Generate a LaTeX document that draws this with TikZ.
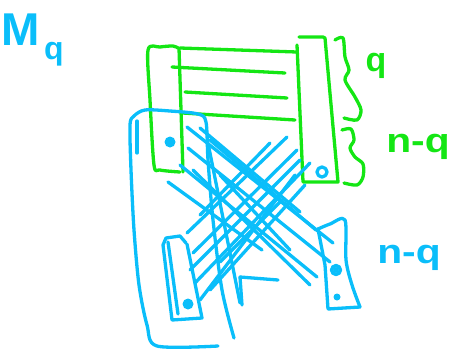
\documentclass[tikz,border=0pt]{standalone}
\usepackage{fontspec}
\setmainfont{Liberation Sans}
\definecolor{pgreen}{RGB}{20,230,20}
\definecolor{pblue}{RGB}{10,190,250}
\begin{document}
\begin{tikzpicture}[x=1pt,y=-1pt,
  gstroke/.style={draw=pgreen,line width=3.3pt,line cap=round,line join=round},
  bstroke/.style={draw=pblue,line width=3.3pt,line cap=round,line join=round},
  glabel/.style={text=pgreen,font=\fontsize{34}{34}\selectfont\bfseries,inner sep=0pt},
  blabel/.style={text=pblue,font=\fontsize{34}{34}\selectfont\bfseries,inner sep=0pt}]
\useasboundingbox (0,0) rectangle (457,349);
% ---------- green matrix ----------
\draw[gstroke] plot[smooth] coordinates {(180,172) (160,170) (154,165) (150,100) (148,50) (160,47) (173,46) (178,48)};
\draw[gstroke] (179,48) -- (183,172);
\draw[gstroke] (180,48) -- (297,52);
\draw[gstroke] (172,67) -- (285,73);
\draw[gstroke] (185,92) -- (287,98);
\draw[gstroke] (183,113) -- (295,120);
\draw[gstroke] (297,45) -- (303,182) -- (338,182) -- (325,38) -- (323,37) -- (299,37);
% braces
\draw[gstroke] plot[smooth] coordinates {(335,40) (343,38) (345,57) (349,70) (345,80) (355,97) (361,110) (357,120) (344,118)};
\draw[gstroke] plot[smooth] coordinates {(342,130) (351,129) (354,140) (350,148) (355,157) (363,164) (363,177) (357,185) (344,183)};
% green labels
\node[glabel] (lq) at (376,66) {q};
\node[glabel,xscale=1.2] (lnq1) at (418,147) {n-q};
% ---------- blue big left shape ----------
\draw[bstroke] plot[smooth] coordinates {(218,346) (157,346) (147,325) (139,285) (134,230) (131,170) (130,125) (134,116) (145,110) (170,111) (198,114) (206,122) (208,160) (213,220) (222,290) (234,338)};
\draw[bstroke] (137,121) -- (137,153);
% bottom-left box
\draw[bstroke] plot coordinates {(186,243) (180,236) (166,238) (163,245) (172,320) (202,318) (187,244)};
\draw[bstroke] (168,242) -- (178,314);
\fill[pblue] (188,304) circle (5.5);
% bottom-right box
\draw[bstroke] plot[smooth] coordinates {(318,229) (330,224) (345,220) (346,260) (352,285) (360,307)};
\draw[bstroke] (360,307) -- (328,309) -- (325,265) -- (318,229);
\draw[bstroke] (336,270) circle (4.5);
\fill[pblue] (336,270) circle (3);
\fill[pblue] (337,297) circle (3.5);
% dots in green boxes
\fill[pblue] (170,142) circle (5.5);
\draw[bstroke] (322,172) circle (5);
% criss-cross lines
\foreach \a/\b in {
  {(187,127)}/{(333,243)}, {(200,128)}/{(300,212)}, {(188,148)}/{(330,262)},
  {(180,165)}/{(317,277)}, {(168,182)}/{(262,250)}, {(193,170)}/{(310,285)},
  {(210,140)}/{(316,230)}, {(220,175)}/{(290,250)},
  {(287,137)}/{(187,233)}, {(297,150)}/{(193,253)}, {(300,160)}/{(190,270)},
  {(310,163)}/{(195,283)}, {(270,143)}/{(200,215)}, {(295,175)}/{(200,300)},
  {(305,185)}/{(210,290)}, {(282,200)}/{(220,262)},
  {(208,143)}/{(240,303)}, {(240,277)}/{(242,305)}, {(240,277)}/{(278,280)}}
  \draw[bstroke] \a -- \b;
% blue labels
\node[blabel,xscale=1.2] (lnq2) at (409,258) {n-q};
\node[text=pblue,font=\fontsize{46}{46}\selectfont\bfseries,inner sep=0pt] (lM) at (21,30) {M};
\node[text=pblue,font=\fontsize{32}{32}\selectfont\bfseries,inner sep=0pt] (lMq) at (54,54) {q};
\end{tikzpicture}
\end{document}
